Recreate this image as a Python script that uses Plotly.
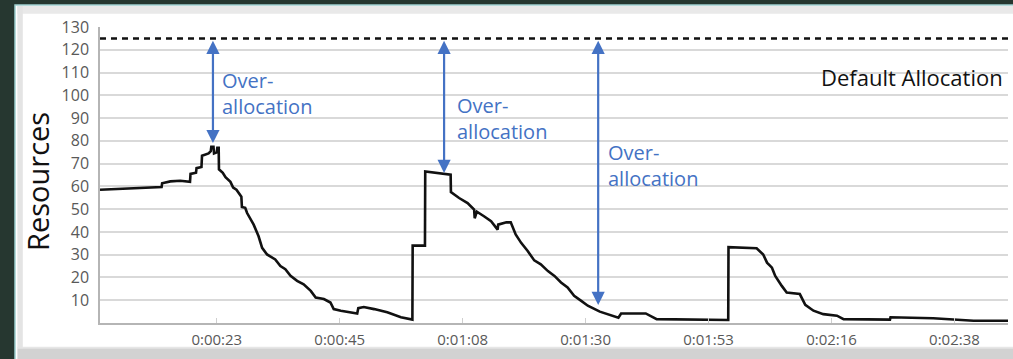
import plotly.graph_objects as go

# ---- data (time in seconds, resources) ----
time_s = [1.13, 12.4, 12.5, 14.0, 15.8, 17.6, 17.7, 18.7, 18.8, 19.7, 19.8, 21.0, 21.4, 21.5,
          21.9, 22.0, 22.5, 22.6, 22.85, 22.9, 23.6, 24.1, 25.0, 25.5, 26.1, 27.0, 27.1, 27.7,
          28.05, 29.25, 30.15, 30.8, 31.7, 33.2, 34.15, 35.05, 36.0, 37.2, 38.4, 39.7, 40.6,
          42.1, 43.3, 43.9, 45.2, 48.2, 48.4, 49.4, 51.3, 53.7, 56.2, 58.3, 58.35, 60.6, 60.65,
          65.3, 65.35, 66.85, 68.4, 69.6, 69.7, 70.1, 71.4, 72.7, 73.9, 74.0, 75.5, 76.3, 77.2,
          78.2, 79.4, 80.6, 81.8, 83.1, 84.3, 85.5, 86.7, 87.9, 89.2, 90.4, 92.6, 96.0, 96.5,
          101.0, 103.0, 109.1, 116.1, 116.15, 121.3, 122.5, 123.2, 124.1, 124.7, 125.9, 126.8,
          129.2, 130.2, 131.7, 133.5, 136.0, 137.2, 145.7, 145.8, 153.6, 161.0, 167.3]
resources = [58.5, 59.7, 61.4, 62.2, 62.5, 62.0, 65.5, 66.0, 68.0, 68.5, 73.5, 74.5, 75.5, 77.4,
             77.4, 74.5, 75.0, 77.0, 77.0, 67.5, 66.0, 64.0, 62.0, 59.5, 58.5, 55.5, 51.0, 50.6,
             48.3, 43.2, 38.1, 33.0, 30.1, 27.9, 25.0, 23.6, 20.7, 18.5, 17.0, 14.1, 11.2,
             10.5, 9.0, 6.1, 5.4, 4.2, 6.5, 7.0, 6.1, 4.7, 2.5, 1.5, 34.0, 34.0, 66.5,
             65.1, 57.5, 54.9, 52.7, 49.8, 46.0, 48.9, 46.9, 44.7, 41.0, 43.2, 44.2, 44.2, 38.9,
             35.2, 31.6, 27.5, 25.8, 22.8, 20.7, 17.8, 15.6, 11.9, 9.7, 7.6, 5.0, 2.3, 4.2,
             4.2, 1.7, 1.5, 1.3, 33.3, 32.8, 30.1, 26.5, 24.3, 20.7, 16.3, 13.4,
             12.7, 8.0, 5.4, 3.9, 3.2, 1.7, 1.5, 2.5, 2.1, 1.0, 1.0]

default_allocation = 125
x_tick_vals = [22.5, 45, 67.5, 90, 112.5, 135, 157.5]
x_tick_text = ["0:00:23", "0:00:45", "0:01:08", "0:01:30", "0:01:53", "0:02:16", "0:02:38"]
y_tick_vals = [10, 20, 30, 40, 50, 60, 70, 80, 90, 100, 110, 120, 130]

# over-allocation arrows: x position, bottom value
arrow_x = [21.8, 64.1, 92.3]
arrow_bottom = [79.0, 65.9, 7.9]
label_x = [23.0, 66.1, 93.8]
label_y = [100.6, 89.6, 69.0]

BLUE = "#4472C4"
fig = go.Figure()

fig.add_trace(go.Scatter(x=time_s, y=resources, mode="lines",
                         line=dict(color="#111111", width=2.6), hoverinfo="skip",
                         showlegend=False))

# default allocation dashed line
fig.add_shape(type="line", xref="paper", yref="y", x0=0, x1=1.01,
              y0=default_allocation, y1=default_allocation,
              line=dict(color="#111111", width=2.5, dash="6px,5px"))

# panel background & frame
fig.add_shape(type="rect", xref="paper", yref="paper", x0=-0.0936, x1=1.03, y0=-0.13, y1=1.074,
              fillcolor="white", line=dict(color="#9ecfcf", width=1.5), layer="below")
fig.add_shape(type="rect", xref="paper", yref="paper", x0=-0.091, x1=1.03, y0=-0.13, y1=-0.085,
              fillcolor="#d2d2d2", line_width=0, layer="below")
fig.add_shape(type="rect", xref="paper", yref="paper", x0=-0.091, x1=1.03, y0=-0.085, y1=-0.08,
              fillcolor="#e6e6e6", line_width=0, layer="below")
fig.add_shape(type="rect", xref="paper", yref="paper", x0=-0.091, x1=1.03, y0=1.045, y1=1.071,
              fillcolor="#e9e9e9", line_width=0, layer="below")
fig.add_shape(type="rect", xref="paper", yref="paper", x0=-0.091, x1=-0.085, y0=-0.085, y1=1.071,
              fillcolor="#e4e4e4", line_width=0, layer="below")

for ax_x, bot in zip(arrow_x, arrow_bottom):
    fig.add_annotation(x=ax_x, y=bot, ax=ax_x, ay=124.6, xref="x", yref="y", axref="x", ayref="y",
                       text="", showarrow=True, arrowhead=2, startarrowhead=2, arrowside="end+start",
                       arrowsize=1.2, startarrowsize=1.2, arrowwidth=2.2, arrowcolor=BLUE,
                       standoff=0, startstandoff=0)

for lx, ly in zip(label_x, label_y):
    fig.add_annotation(x=lx, y=ly, xref="x", yref="y", text="Over-<br>allocation", showarrow=False,
                       xanchor="left", yanchor="middle", align="left",
                       font=dict(family="Open Sans", size=20, color=BLUE))

fig.add_annotation(x=0.9967, y=108, xref="paper", yref="y", text="Default Allocation", showarrow=False,
                   xanchor="right", yanchor="middle",
                   font=dict(family="Open Sans", size=22, color="#111111"))

# y-axis title
fig.add_annotation(x=-0.0683, y=0.48, xref="paper", yref="paper", text="Resources", showarrow=False,
                   textangle=-90, xanchor="center", yanchor="middle",
                   font=dict(family="Open Sans", size=29, color="#111111"))

fig.update_xaxes(range=[1.13, 167.3], tickvals=x_tick_vals, ticktext=x_tick_text, automargin=False,
                 showgrid=False, zeroline=False, showline=True, linecolor="#b5b5b5", linewidth=1.5,
                 ticks="inside", ticklen=5, tickcolor="#cfcfcf", ticklabelstandoff=2,
                 tickfont=dict(family="Open Sans", size=15, color="#595959"))
fig.update_yaxes(range=[0, 130], tickvals=y_tick_vals, showgrid=True, gridcolor="#d9d9d9",
                 automargin=False,
                 gridwidth=1.6, zeroline=False, showline=True, linecolor="#b5b5b5", linewidth=1.5,
                 ticklabelstandoff=6,
                 tickfont=dict(family="Open Sans", size=16, color="#595959"))

fig.update_layout(width=1013, height=359, margin=dict(l=100, r=5, t=27, b=36),
                  paper_bgcolor="#263730", plot_bgcolor="rgba(0,0,0,0)", showlegend=False)

fig.write_html("out.html", config={"displayModeBar": False},
               post_script="document.body.style.margin='0';document.body.style.overflow='hidden';")
